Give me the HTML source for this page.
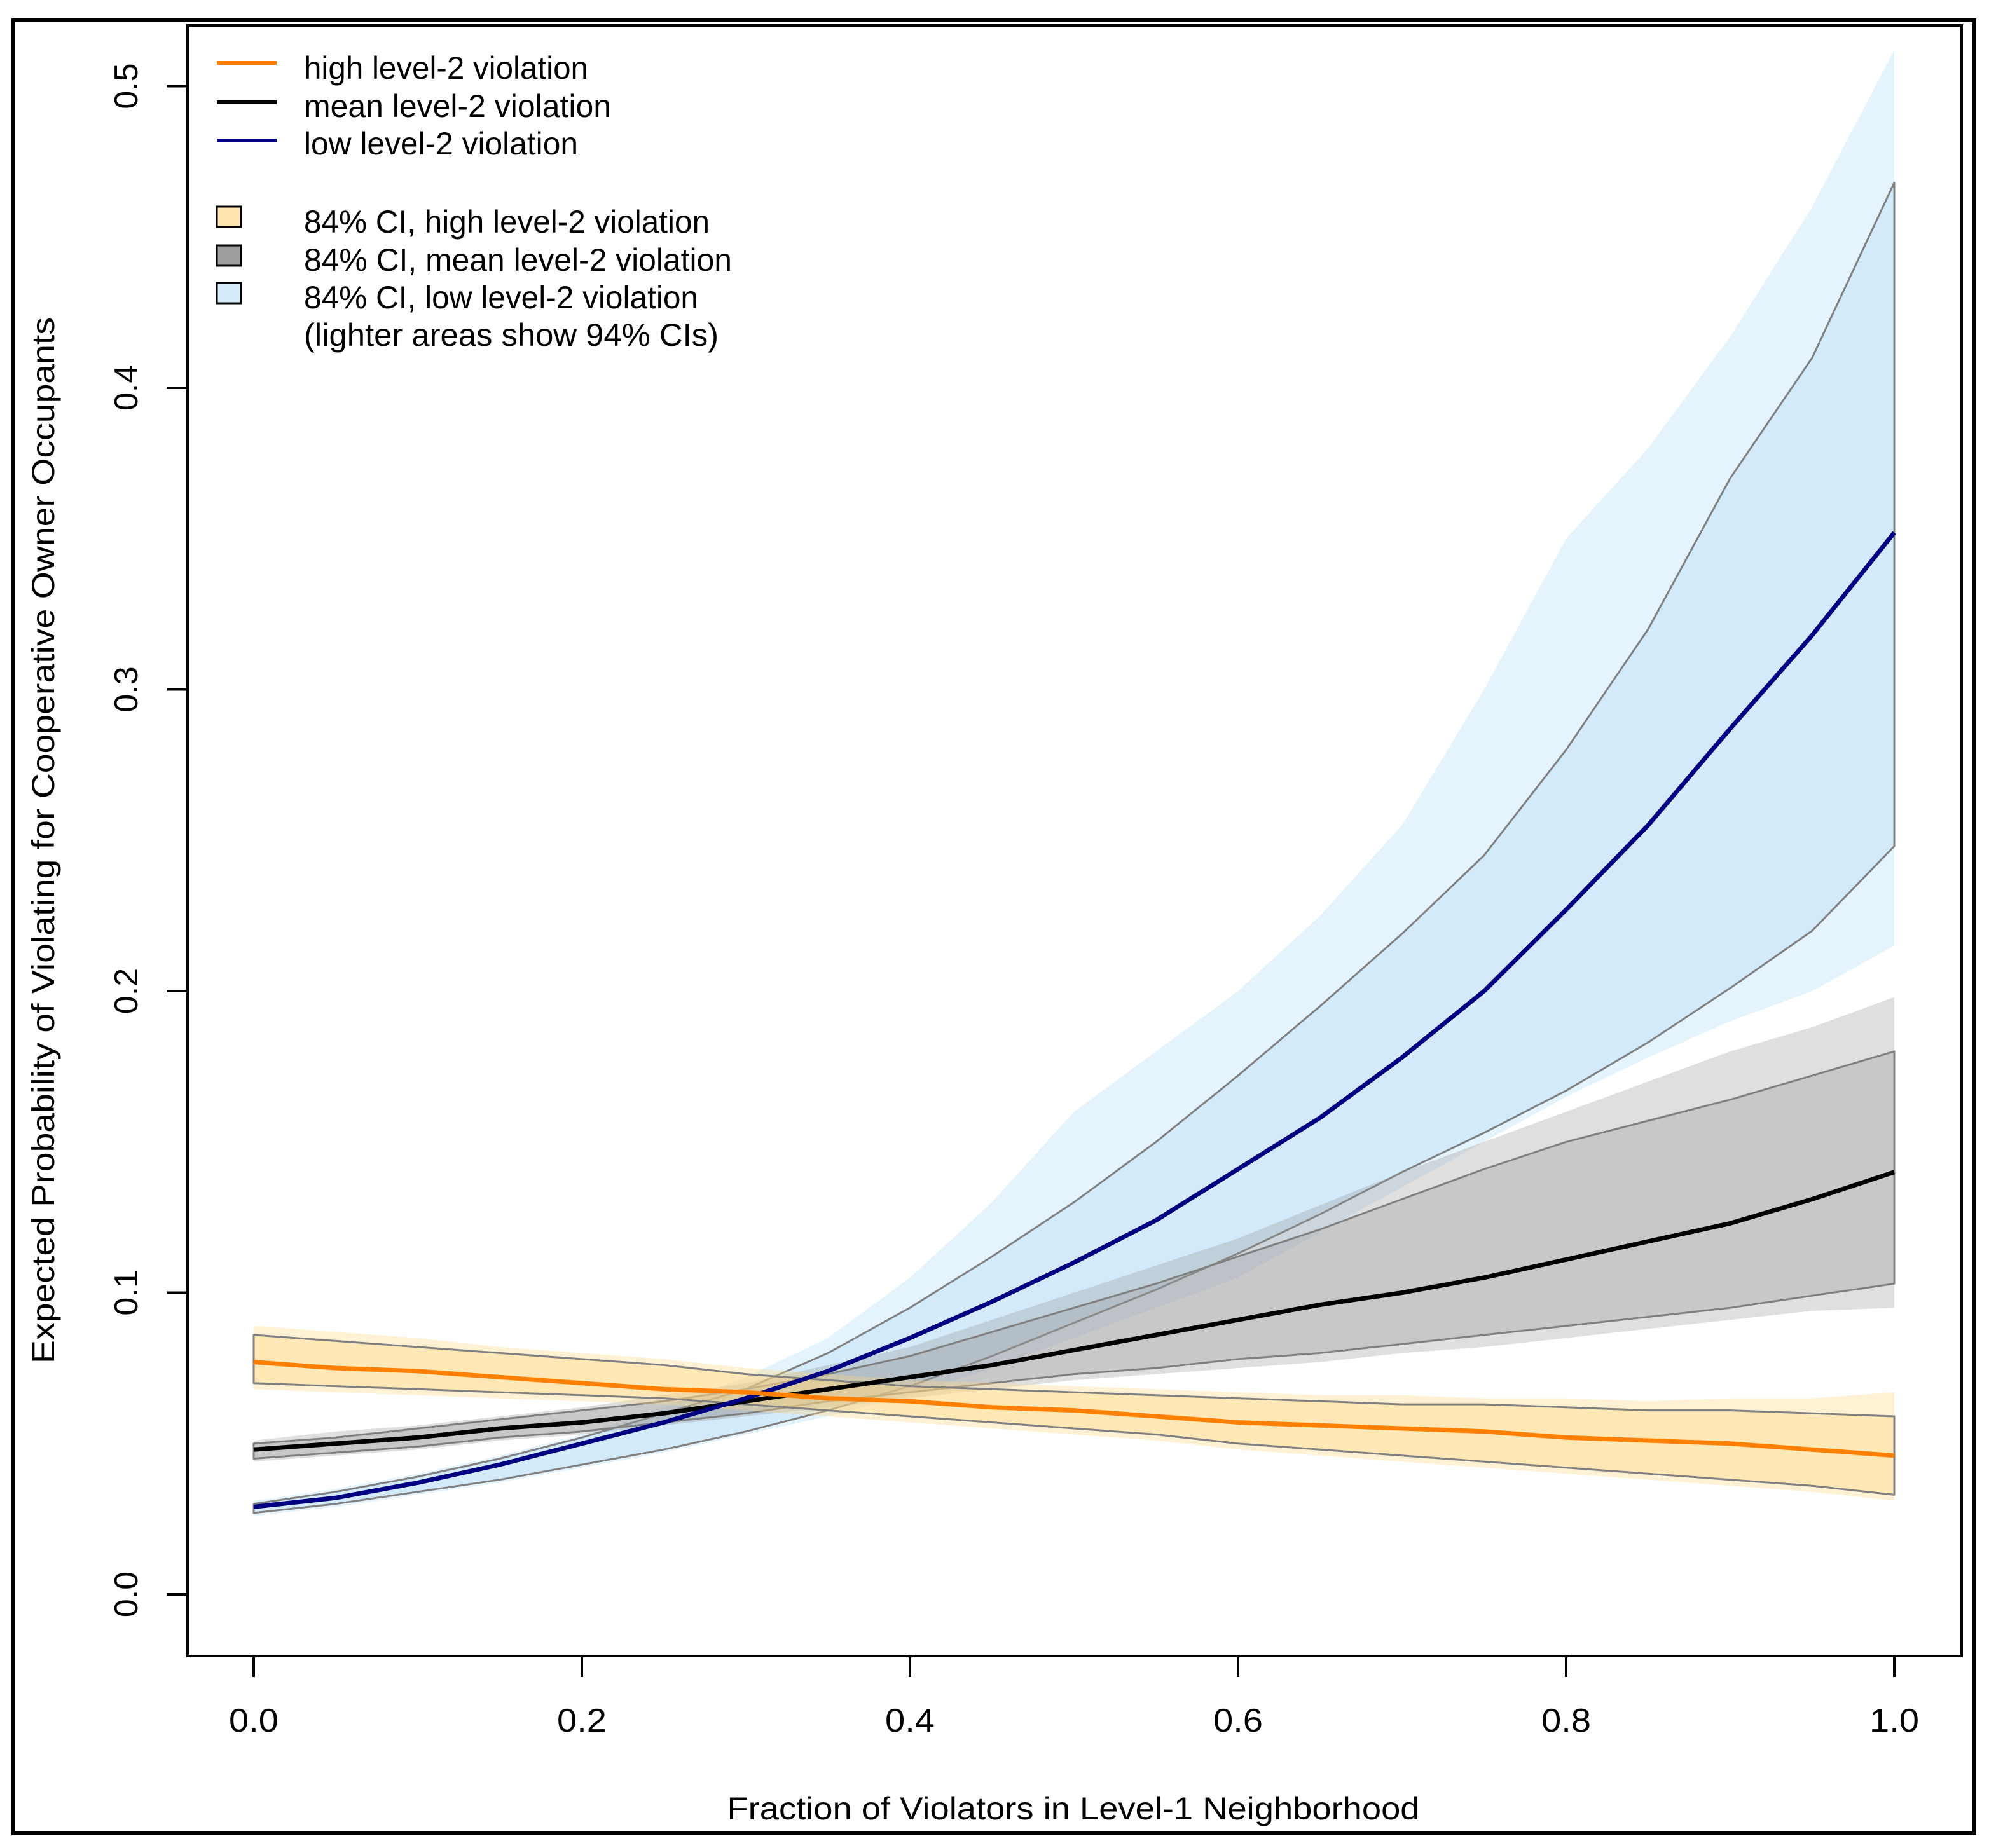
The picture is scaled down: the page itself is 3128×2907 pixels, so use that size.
<!DOCTYPE html>
<html><head><meta charset="utf-8"><style>
html,body{margin:0;padding:0;background:#fff;}
svg{display:block;font-family:"Liberation Sans",Arial,sans-serif;}
</style></head><body>
<svg id="chart" width="3128" height="2907" viewBox="0 0 3128 2907" xmlns="http://www.w3.org/2000/svg">
<rect x="0" y="0" width="3128" height="2907" fill="#fff"/>
<rect x="21" y="32" width="3084" height="2852" fill="none" stroke="#000" stroke-width="6"/>
<g id="bands"></g>
<g id="lines"></g>
<rect x="295" y="40" width="2790" height="2565" fill="none" stroke="#000" stroke-width="4"/>
<g id="axes"></g>
<g font-size="50" fill="#000">
  <line x1="341" y1="99" x2="435" y2="99" stroke="#ff7f00" stroke-width="6"/>
  <line x1="341" y1="161" x2="435" y2="161" stroke="#000" stroke-width="6"/>
  <line x1="341" y1="221" x2="435" y2="221" stroke="#000080" stroke-width="6"/>
  <text x="478" y="124" textLength="447" lengthAdjust="spacingAndGlyphs">high level-2 violation</text>
  <text x="478" y="184" textLength="483" lengthAdjust="spacingAndGlyphs">mean level-2 violation</text>
  <text x="478" y="243" textLength="431" lengthAdjust="spacingAndGlyphs">low level-2 violation</text>
  <rect x="341" y="325" width="38" height="32" fill="#ffe4ae" stroke="#000" stroke-width="3"/>
  <rect x="341" y="386" width="38" height="32" fill="#9e9e9e" stroke="#000" stroke-width="3"/>
  <rect x="341" y="445" width="38" height="32" fill="#d4ebfa" stroke="#000" stroke-width="3"/>
  <text x="478" y="366" textLength="638" lengthAdjust="spacingAndGlyphs">84% CI, high level-2 violation</text>
  <text x="478" y="426" textLength="673" lengthAdjust="spacingAndGlyphs">84% CI, mean level-2 violation</text>
  <text x="478" y="485" textLength="620" lengthAdjust="spacingAndGlyphs">84% CI, low level-2 violation</text>
  <text x="478" y="544" textLength="652" lengthAdjust="spacingAndGlyphs">(lighter areas show 94% CIs)</text>
</g>
<text x="1688" y="2862" font-size="50" text-anchor="middle" textLength="1089" lengthAdjust="spacingAndGlyphs">Fraction of Violators in Level-1 Neighborhood</text>
<text transform="translate(85,1322) rotate(-90)" font-size="50" text-anchor="middle" textLength="1646" lengthAdjust="spacingAndGlyphs">Expected Probability of Violating for Cooperative Owner Occupants</text>
</svg>
<script>
const xs = [0,0.05,0.1,0.15,0.2,0.25,0.3,0.35,0.4,0.45,0.5,0.55,0.6,0.65,0.7,0.75,0.8,0.85,0.9,0.95,1.0];
const highMean = [0.077,0.075,0.074,0.072,0.070,0.068,0.067,0.065,0.064,0.062,0.061,0.059,0.057,0.056,0.055,0.054,0.052,0.051,0.050,0.048,0.046];
const highU84 = [0.086,0.084,0.082,0.080,0.078,0.076,0.073,0.071,0.069,0.068,0.067,0.066,0.065,0.064,0.063,0.063,0.062,0.061,0.061,0.060,0.059];
const highL84 = [0.070,0.069,0.068,0.067,0.066,0.065,0.063,0.061,0.059,0.057,0.055,0.053,0.050,0.048,0.046,0.044,0.042,0.040,0.038,0.036,0.033];
const highU94 = [0.089,0.087,0.085,0.082,0.080,0.078,0.075,0.073,0.071,0.070,0.069,0.068,0.067,0.066,0.066,0.065,0.065,0.064,0.065,0.065,0.067];
const highL94 = [0.068,0.067,0.066,0.065,0.064,0.063,0.061,0.059,0.057,0.055,0.053,0.051,0.048,0.046,0.044,0.042,0.040,0.038,0.036,0.034,0.031];
const meanMean = [0.048,0.050,0.052,0.055,0.057,0.060,0.064,0.068,0.072,0.076,0.081,0.086,0.091,0.096,0.100,0.105,0.111,0.117,0.123,0.131,0.140];
const meanU84 = [0.050,0.052,0.055,0.058,0.061,0.064,0.068,0.073,0.079,0.087,0.095,0.103,0.112,0.121,0.131,0.141,0.150,0.157,0.164,0.172,0.180];
const meanL84 = [0.045,0.047,0.049,0.052,0.054,0.057,0.060,0.064,0.067,0.070,0.073,0.075,0.078,0.080,0.083,0.086,0.089,0.092,0.095,0.099,0.103];
const meanU94 = [0.051,0.054,0.056,0.059,0.062,0.066,0.070,0.076,0.082,0.091,0.100,0.109,0.118,0.129,0.140,0.150,0.160,0.170,0.180,0.188,0.198];
const meanL94 = [0.044,0.046,0.048,0.051,0.053,0.056,0.059,0.062,0.065,0.068,0.071,0.073,0.075,0.077,0.080,0.082,0.085,0.088,0.091,0.094,0.095];
const lowMean = [0.029,0.032,0.037,0.043,0.050,0.057,0.065,0.074,0.085,0.097,0.110,0.124,0.141,0.158,0.178,0.200,0.227,0.255,0.287,0.318,0.352];
const lowU84 = [0.030,0.034,0.039,0.045,0.052,0.060,0.068,0.080,0.095,0.112,0.130,0.150,0.172,0.195,0.219,0.245,0.280,0.320,0.370,0.410,0.468];
const lowL84 = [0.027,0.030,0.034,0.038,0.043,0.048,0.054,0.061,0.069,0.079,0.090,0.101,0.113,0.126,0.140,0.153,0.167,0.183,0.201,0.220,0.248];
const lowU94 = [0.031,0.035,0.040,0.046,0.053,0.062,0.072,0.085,0.105,0.130,0.160,0.180,0.200,0.225,0.255,0.300,0.350,0.380,0.417,0.460,0.512];
const lowL94 = [0.026,0.029,0.033,0.037,0.042,0.047,0.053,0.059,0.066,0.075,0.085,0.095,0.105,0.120,0.135,0.150,0.165,0.178,0.190,0.200,0.215];
const xTicks = [0,0.2,0.4,0.6,0.8,1.0];
const xTickLabels = ["0.0","0.2","0.4","0.6","0.8","1.0"];
const yTicks = [0,0.1,0.2,0.3,0.4,0.5];
const yTickLabels = ["0.0","0.1","0.2","0.3","0.4","0.5"];

const NS = "http://www.w3.org/2000/svg";
function sx(v){ return 399 + v*2580; }
function sy(v){ return 2508 - v*4745; }
function pts(arr){ return arr.map((v,i)=>sx(xs[i]).toFixed(1)+","+sy(v).toFixed(1)); }
function band(g, up, lo, fill, op, name, stroke){
  const p = document.createElementNS(NS,"polygon");
  p.setAttribute("points", pts(up).concat(pts(lo).reverse()).join(" "));
  p.setAttribute("fill", fill);
  p.setAttribute("fill-opacity", op);
  if(stroke){ p.setAttribute("stroke","#808080"); p.setAttribute("stroke-width","3"); p.setAttribute("stroke-linejoin","round"); } else p.setAttribute("stroke","none");
  
  
  g.appendChild(p);
}
function line(g, arr, color, name){
  const p = document.createElementNS(NS,"polyline");
  p.setAttribute("points", pts(arr).join(" "));
  p.setAttribute("fill","none");
  p.setAttribute("stroke",color);
  p.setAttribute("stroke-width","7");
  p.setAttribute("stroke-linejoin","round");
  
  
  g.appendChild(p);
}
const bg = document.getElementById("bands");
band(bg, lowU94, lowL94, "rgb(170,215,245)", 0.3, "ci94-low", false);
band(bg, lowU84, lowL84, "rgb(170,215,245)", 0.3, "ci84-low", true);
band(bg, meanU94, meanL94, "rgb(150,150,150)", 0.3, "ci94-mean", false);
band(bg, meanU84, meanL84, "rgb(150,150,150)", 0.3, "ci84-mean", true);
band(bg, highU94, highL94, "rgb(255,215,130)", 0.35, "ci94-high", false);
band(bg, highU84, highL84, "rgb(255,215,130)", 0.35, "ci84-high", true);
const lg = document.getElementById("lines");
line(lg, meanMean, "#000000", "line-mean");
line(lg, lowMean, "#000080", "line-low");
line(lg, highMean, "#ff7f00", "line-high");

const ax = document.getElementById("axes");
xTicks.forEach((t,i)=>{
  const l = document.createElementNS(NS,"line");
  l.setAttribute("x1",sx(t)); l.setAttribute("x2",sx(t)); l.setAttribute("y1",2605); l.setAttribute("y2",2638);
  l.setAttribute("stroke","#000"); l.setAttribute("stroke-width","4");
  
  
  ax.appendChild(l);
  const tx = document.createElementNS(NS,"text");
  tx.setAttribute("x",sx(t)); tx.setAttribute("y",2724);
  tx.setAttribute("text-anchor","middle"); tx.setAttribute("font-size","52");
  tx.setAttribute("textLength","78"); tx.setAttribute("lengthAdjust","spacingAndGlyphs");
  tx.textContent = xTickLabels[i];
  
  
  ax.appendChild(tx);
});
yTicks.forEach((t,i)=>{
  const l = document.createElementNS(NS,"line");
  l.setAttribute("x1",262); l.setAttribute("x2",295); l.setAttribute("y1",sy(t)); l.setAttribute("y2",sy(t));
  l.setAttribute("stroke","#000"); l.setAttribute("stroke-width","4");
  
  
  ax.appendChild(l);
  const tx = document.createElementNS(NS,"text");
  tx.setAttribute("transform","translate(216,"+sy(t)+") rotate(-90)");
  tx.setAttribute("text-anchor","middle"); tx.setAttribute("font-size","52");
  tx.textContent = yTickLabels[i];
  
  
  ax.appendChild(tx);
});
</script>
</body></html>
